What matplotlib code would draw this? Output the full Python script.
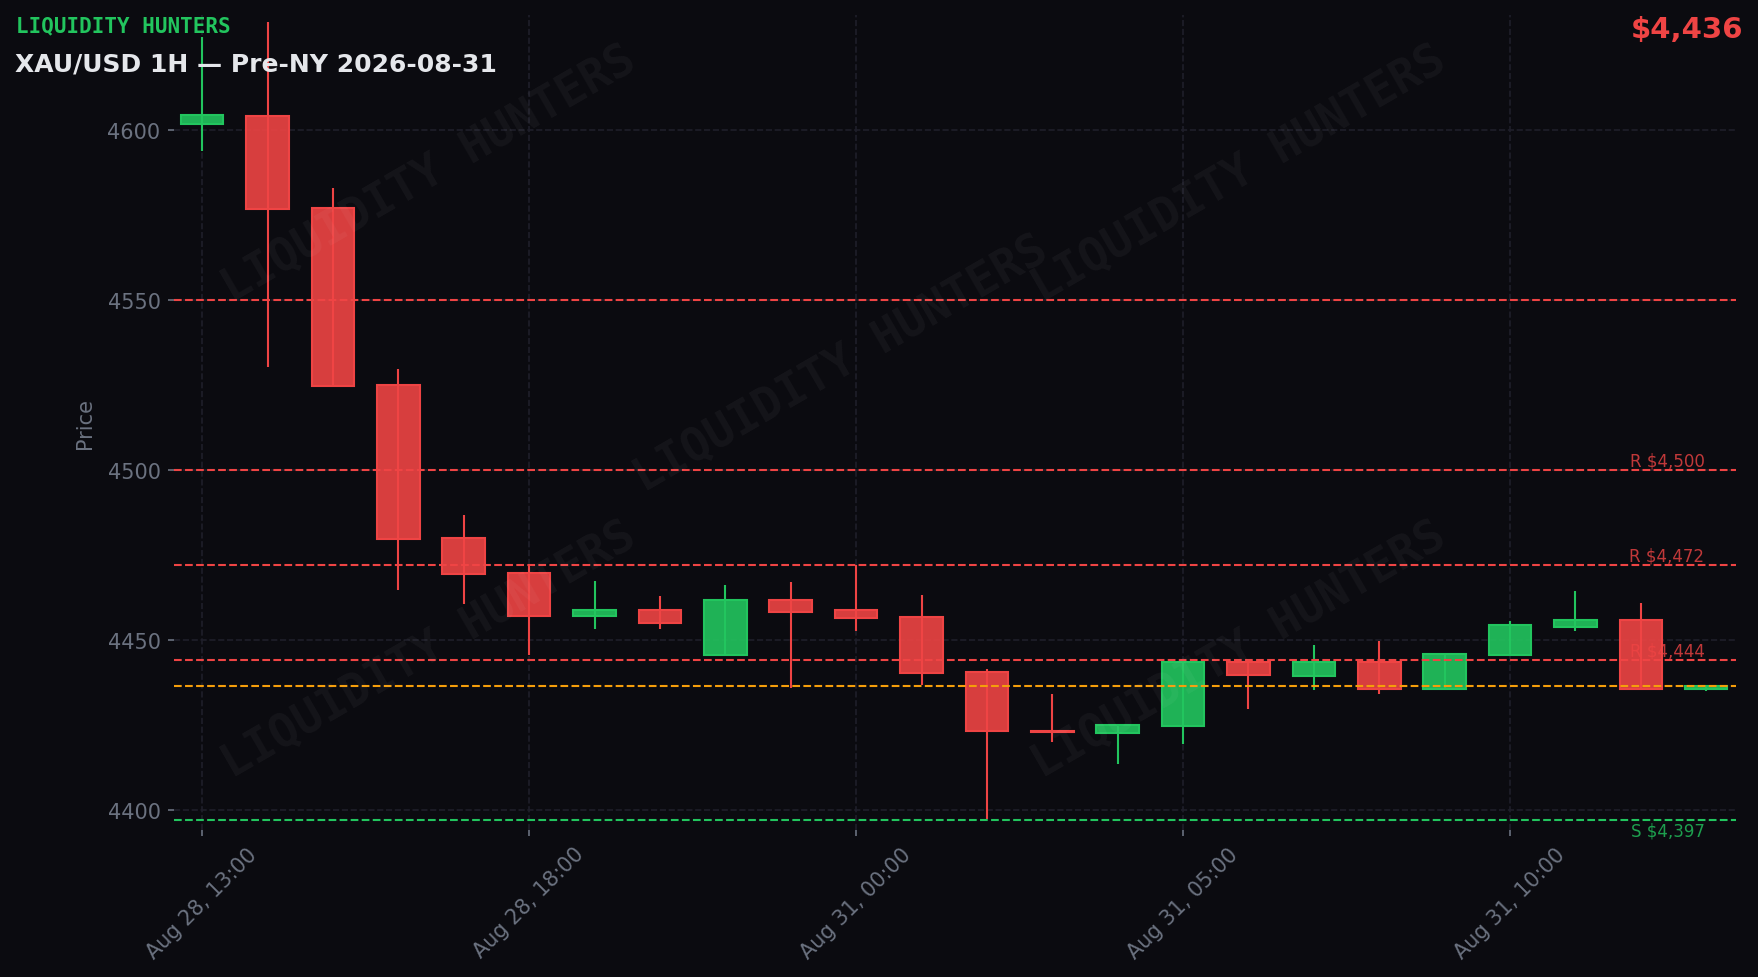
import matplotlib
matplotlib.use("Agg")
import matplotlib.pyplot as plt
import matplotlib.transforms as mtransforms
from matplotlib.colors import to_rgba

# --- Data ---
times = (
    [f"Aug 28, {h:02d}:00" for h in range(13, 23)]
    + [f"Aug 31, {h:02d}:00" for h in range(0, 14)]
)
opens = [4601.7, 4604.1, 4577.0, 4524.9, 4479.9, 4469.6, 4456.9, 4458.7, 4445.6, 4461.7,
         4458.7, 4456.7, 4440.5, 4423.2, 4422.7, 4424.5, 4443.5, 4439.2, 4443.5, 4435.6,
         4445.4, 4453.9, 4455.9, 4435.6]
highs = [4627.3, 4631.8, 4583.0, 4529.7, 4486.8, 4472.0, 4467.3, 4462.9, 4466.2, 4467.0,
         4472.0, 4463.2, 4441.4, 4434.1, 4425.3, 4443.9, 4443.8, 4448.5, 4449.7, 4446.0,
         4455.6, 4464.4, 4460.9, 4436.7]
lows = [4594.0, 4530.2, 4524.3, 4464.7, 4460.6, 4445.6, 4453.3, 4453.3, 4445.4, 4435.8,
        4452.6, 4436.7, 4397.3, 4420.0, 4413.3, 4419.4, 4429.5, 4435.3, 4433.9, 4435.4,
        4445.1, 4452.6, 4435.4, 4435.0]
closes = [4604.6, 4576.7, 4524.6, 4479.8, 4469.3, 4456.9, 4458.7, 4454.9, 4461.7, 4458.3,
          4456.4, 4440.2, 4423.1, 4422.9, 4425.0, 4443.5, 4439.5, 4443.5, 4435.6, 4445.8,
          4454.4, 4455.9, 4435.6, 4436.5]

resistance_levels = [4550, 4500, 4472, 4444]
labelled_resistance = [4500, 4472, 4444]
support_levels = [4397]
current_price = 4436.5
tick_every = 5

# --- Style ---
BG = "#0b0b10"
GRID = "#1f1f2a"
MUTED = "#6b7280"
UP = "#22c55e"
DOWN = "#ef4444"
ORANGE = "#f59e0b"
WATERMARK = "LIQUIDITY HUNTERS"


def draw_candles(ax):
    """
    Draw wicks and bodies of the candlesticks.
    """
    x = list(range(len(opens)))
    colors = [UP if c >= o else DOWN for o, c in zip(opens, closes)]
    ax.vlines(x, lows, highs, colors=colors, linewidth=1.0, zorder=2)
    bottoms = [min(o, c) for o, c in zip(opens, closes)]
    heights = [max(abs(c - o), 0.3) for o, c in zip(opens, closes)]
    ax.bar(x, heights, bottom=bottoms, width=0.65,
           color=[to_rgba(c, 0.9) for c in colors],
           edgecolor=colors, linewidth=1.0, zorder=3)


def draw_levels(ax):
    """
    Draw support / resistance and current price lines.
    """
    trans = mtransforms.blended_transform_factory(ax.transAxes, ax.transData)
    for lvl in resistance_levels:
        ax.axhline(lvl, color=DOWN, linestyle="--", linewidth=1.0, zorder=4)
        if lvl in labelled_resistance:
            ax.text(0.98, lvl + 0.2, f"R ${lvl:,}", transform=trans, ha="right", va="bottom",
                    fontsize=8, color=DOWN, alpha=0.8, zorder=5)
    for lvl in support_levels:
        ax.axhline(lvl, color=UP, linestyle="--", linewidth=1.0, zorder=4)
        ax.text(0.98, lvl - 0.4, f"S ${lvl:,}", transform=trans, ha="right", va="top",
                fontsize=8, color=UP, alpha=0.8, zorder=5)
    ax.axhline(current_price, color=ORANGE, linestyle="--", linewidth=1.0, zorder=4)


def draw_watermarks(ax):
    """
    Faint rotated brand text over the chart.
    """
    spots = [(0.163, 0.806), (0.427, 0.573), (0.682, 0.806), (0.163, 0.222), (0.682, 0.222)]
    for px, py in spots:
        ax.text(px, py, WATERMARK, transform=ax.transAxes, rotation=30, ha="center", va="center",
                fontsize=22, fontweight="bold", family="DejaVu Sans Mono",
                color="white", alpha=0.045, zorder=6)


# --- Main ---
fig = plt.figure(figsize=(11.72, 6.52), dpi=150, facecolor=BG)
ax = fig.add_axes([0.099, 0.1503, 0.8883, 0.8333], facecolor=BG)

draw_candles(ax)
draw_levels(ax)
draw_watermarks(ax)

ax.set_xlim(-0.43, 23.45)
ax.set_ylim(4394.0, 4633.9)
ticks = list(range(0, len(times), tick_every))
ax.set_xticks(ticks)
ax.set_xticklabels([times[i] for i in ticks], rotation=45, ha="center")
ax.set_yticks([4400, 4450, 4500, 4550, 4600])
ax.tick_params(colors=MUTED, labelsize=10, length=3)
ax.grid(True, color=GRID, linestyle="--", linewidth=0.8, zorder=0)
ax.set_axisbelow(True)
for s in ax.spines.values():
    s.set_visible(False)
ax.set_ylabel("Price", color=MUTED, fontsize=10, labelpad=6)

fig.text(0.009, 1 - 16 / 978, "LIQUIDITY HUNTERS", family="DejaVu Sans Mono", fontweight="bold",
         fontsize=10, color=UP, ha="left", va="top")
fig.text(0.0085, 1 - 53 / 978, "XAU/USD 1H — Pre-NY 2026-08-31", fontweight="bold",
         fontsize=12, color="#e5e7eb", ha="left", va="top")
fig.text(0.9915, 1 - 16 / 978, f"${round(current_price):,}", fontweight="bold",
         fontsize=14, color=DOWN, ha="right", va="top")

fig.savefig("out.png", dpi=150, facecolor=BG)
